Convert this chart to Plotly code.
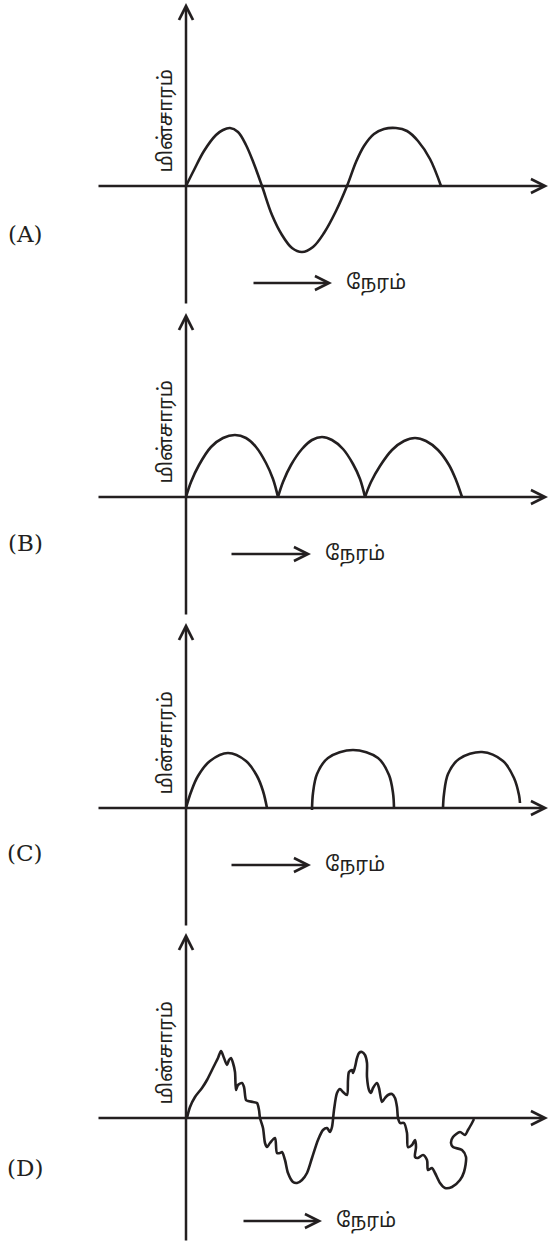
import plotly.graph_objects as go

# ---- data: time (t) vs current (i), origin at axis crossing ----
a_t = [0, 8, 18, 30, 37, 44, 52, 60, 68, 76, 86, 96, 106, 116, 127, 138, 150, 161,
       170, 178, 188, 198, 210, 221, 232, 244, 255]
a_i = [0, 16, 35, 51, 56, 58, 54, 41, 22, 0, -29, -49, -62, -66, -61, -47, -25, 0,
       24, 40, 52, 57, 58, 55, 45, 27, 0]

# full-wave rectified: three touching arches
b_t = [0, 5, 13, 25, 37, 49, 60, 70, 80, 87, 92, None,
       92, 97, 105, 116, 126, 136, 146, 157, 167, 174, 179, None,
       179, 185, 194, 206, 218, 229, 240, 252, 263, 270, 276]
b_i = [0, 15, 32, 50, 59, 62, 59, 50, 34, 18, 0, None,
       0, 15, 32, 48, 57, 60, 57, 48, 33, 18, 0, None,
       0, 15, 31, 47, 56, 59, 56, 47, 32, 17, 0]

# half-wave rectified: arches separated by gaps
c_t = [0, 5, 12, 24, 42, 60, 71, 77, 81, None,
       126, 127, 131, 142, 167, 192, 203, 207, 208, None,
       257, 258, 262, 273, 296, 317, 328, 333, 334]
c_i = [0, 16, 32, 47, 55, 47, 32, 17, 0, None,
       -2, 15, 34, 50, 58, 50, 33, 15, 0, None,
       0, 14, 34, 49, 56, 47, 30, 13, 5]

# noisy alternating current
d_t = [1, 4, 9, 16, 21, 26, 29, 32, 35, 38, 41, 43, 45, 47, 49, 50, 52, 56, 58, 60,
       62, 67, 71, 73, 74, 77, 79, 81, 84, 89, 91, 94, 96, 99, 102, 107, 111, 116, 121,
       126, 132, 137, 141, 144, 146, 148, 151, 154, 157, 161, 162, 163, 166, 167, 169,
       171, 173, 176, 179, 181, 181, 183, 185, 187, 191, 193, 196, 199, 202, 206, 209,
       211, 212, 214, 218, 221, 222, 226, 229, 230, 229, 232, 237, 241, 242, 246, 249,
       254, 259, 266, 274, 278, 280, 276, 267, 265, 267, 274, 279, 282, 286, 288]
d_i = [0, 11, 21, 30, 38, 48, 54, 60, 67, 60, 53, 58, 60, 55, 46, 28, 33, 35, 31, 18,
       17, 16, 15, 8, 0, -10, -25, -29, -25, -20, -35, -35, -34, -42, -55, -64, -65, -62,
       -55, -40, -22, -12, -10, -14, -9, 8, 25, 29, 26, 23, 38, 46, 48, 45, 51, 60, 65,
       66, 63, 55, 41, 28, 25, 30, 35, 30, 16, 20, 23, 24, 20, 11, 0, -5, -5, -15, -29,
       -27, -22, -29, -39, -40, -37, -42, -52, -50, -55, -65, -70, -69, -62, -54, -39,
       -32, -29, -25, -19, -14, -17, -12, -5, -1]

series = [(a_t, a_i, 1.0), (b_t, b_i, 1.0), (c_t, c_i, 1.0), (d_t, d_i, 0.8)]
letters = ["(A)", "(B)", "(C)", "(D)"]
y_label = "மின்சாரம்"
x_label = "நேரம்"

# ---- page geometry (pixels) ----
W, H = 551, 1242
ORIGIN_X = 186
ORIGIN_Y = [186, 497, 808, 1118]
ROWS = [(0, 310), (310, 620), (620, 930), (930, 1242)]
X_AXIS = (-89, 362)          # left end, arrow tip
Y_AXIS = [(-119, 183), (-119, 184), (-119, 185), (-124, 185)]
TIME_ARROW = [(66, 146, -97), (44, 125, -57), (44, 125, -57), (56, 136, -103)]
LETTER_Y = [-48, -46, -45, -50]

INK = "#231f20"
TAMIL = "Noto Sans Tamil, Lohit Tamil, Noto Sans, sans-serif"

fig = go.Figure()
annotations = []
for k in range(4):
    n = "" if k == 0 else str(k + 1)
    xr, yr = "x" + n, "y" + n
    t, i, sm = series[k]
    fig.add_trace(go.Scatter(x=t, y=i, mode="lines", xaxis=xr, yaxis=yr,
                             line=dict(color=INK, width=2.6, shape="spline", smoothing=sm),
                             connectgaps=False, showlegend=False, hoverinfo="skip"))
    top, bot = ROWS[k]
    oy = ORIGIN_Y[k]
    fig.update_layout(**{
        "xaxis" + n: dict(domain=[0, 1], range=[-ORIGIN_X, W - ORIGIN_X], visible=False,
                          anchor=yr, fixedrange=True),
        "yaxis" + n: dict(domain=[1 - bot / H, 1 - top / H], range=[oy - bot, oy - top],
                          visible=False, anchor=xr, fixedrange=True),
    })
    arrow = dict(xref=xr, yref=yr, axref=xr, ayref=yr, text="", showarrow=True,
                 arrowhead=5, arrowsize=1.1, arrowwidth=2.5, arrowcolor=INK, standoff=0)
    # axes
    annotations.append(dict(arrow, x=X_AXIS[1], y=0, ax=X_AXIS[0], ay=0))
    annotations.append(dict(arrow, x=0, y=Y_AXIS[k][1], ax=0, ay=Y_AXIS[k][0]))
    # time arrow + label
    x0, x1, ya = TIME_ARROW[k]
    annotations.append(dict(arrow, x=x1, y=ya, ax=x0, ay=ya))
    annotations.append(dict(xref=xr, yref=yr, x=x1 + 12, y=ya, text=x_label, showarrow=False,
                            xanchor="left", yanchor="middle",
                            font=dict(family=TAMIL, size=20, color=INK)))
    # current label (vertical)
    annotations.append(dict(xref=xr, yref=yr, x=-20, y=11, text=y_label, showarrow=False,
                            textangle=-90, xanchor="center", yanchor="bottom",
                            font=dict(family=TAMIL, size=20, color=INK)))
    # panel letter
    annotations.append(dict(xref=xr, yref=yr, x=-161, y=LETTER_Y[k], text=letters[k],
                            showarrow=False, xanchor="center", yanchor="middle",
                            font=dict(family="DejaVu Serif", size=23, color=INK)))

fig.update_layout(width=W, height=H, margin=dict(l=0, r=0, t=0, b=0),
                  paper_bgcolor="white", plot_bgcolor="rgba(0,0,0,0)",
                  annotations=annotations)
# the page's default 8px body margin would shift the drawing
fig.write_html("out.html", config={"displayModeBar": False, "staticPlot": True},
               post_script="document.body.style.margin='0';")
